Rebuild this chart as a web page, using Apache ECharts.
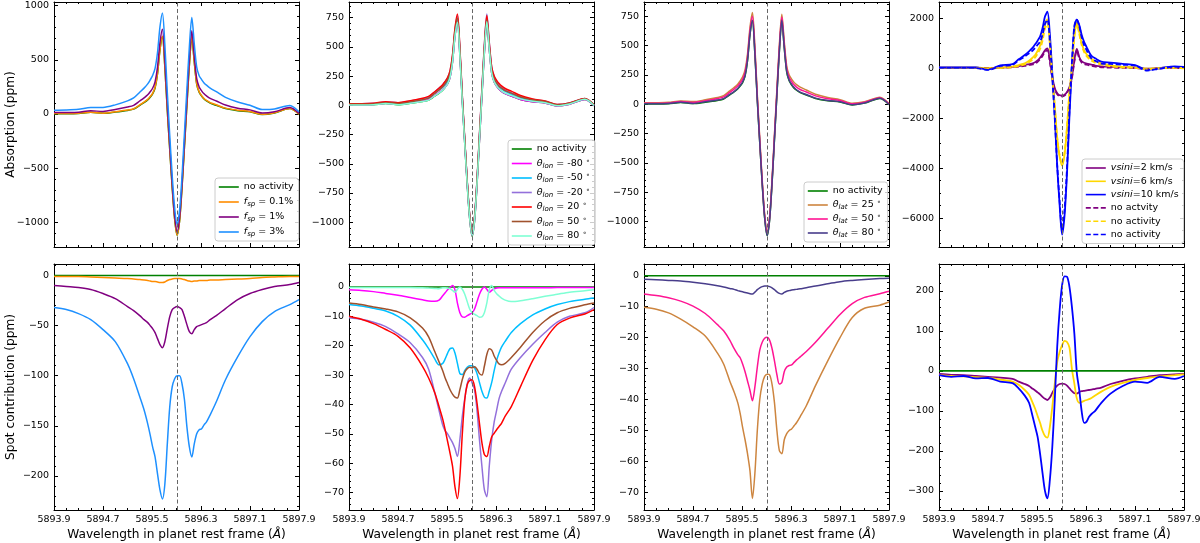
<!DOCTYPE html>
<html>
<head>
<meta charset="utf-8">
<script src="https://cdn.jsdelivr.net/npm/echarts@6/dist/echarts.min.js"></script>
<style>
  html, body { margin: 0; padding: 0; background: #fff; }
  #chart { width: 1200px; height: 543px; }
</style>
</head>
<body>
<div id="chart"></div>
<script>
// wavelength grid (Angstrom), shared by every curve; denser around the Na D1 core
const wave = [5893.9, 5894.1, 5894.3, 5894.5, 5894.7, 5894.9, 5895.1, 5895.2, 5895.3, 5895.37,
  5895.43, 5895.47, 5895.51, 5895.55, 5895.59, 5895.63, 5895.67, 5895.71, 5895.75, 5895.79,
  5895.83, 5895.87, 5895.91, 5895.95, 5895.99, 5896.03, 5896.07, 5896.11, 5896.15, 5896.19,
  5896.23, 5896.27, 5896.31, 5896.35, 5896.39, 5896.45, 5896.55, 5896.7, 5896.9, 5897.1,
  5897.3, 5897.5, 5897.75, 5897.9];
const flatWave = [5893.9, 5897.9];
const flatZero = [0, 0];
const restLine = 5895.91;

// --- absorption, panels 1-3 (top row) ---
const noActivity = [3,3,5,15,6,18,33,45,80,105,130,155,185,240,370,590,710,430,30,-330,-680,-970,-1120,-990,-680,-300,80,450,710,480,275,200,165,138,120,100,80,50,30,20,-5,10,50,-3];
const fsp01Abs = [4,4,6,17,8,21,36,49,84,110,135,161,191,246,377,597,717,437,35,-326,-677,-967,-1117,-987,-677,-296,85,456,716,486,281,205,170,143,125,105,85,54,34,23,-3,12,51,-2];
const fsp1Abs = [13,14,17,29,24,41,64,80,120,149,177,205,238,297,433,659,782,496,83,-289,-646,-938,-1089,-958,-646,-259,129,506,768,534,326,250,214,186,167,144,120,83,54,38,9,21,59,4];
const fsp3Abs = [35,37,43,59,60,84,121,148,201,239,278,314,356,421,568,804,933,638,198,-199,-569,-867,-1020,-890,-572,-176,231,621,891,648,433,354,318,287,266,239,206,154,111,81,41,46,79,21];

const lonM80Abs = [4,4,7,17,9,22,37,50,85,110,133,157,186,240,370,591,716,439,40,-320,-670,-961,-1111,-983,-675,-298,81,450,711,482,276,201,165,138,120,100,80,50,30,20,-5,10,50,-3];
const lonM50Abs = [9,10,12,23,16,31,51,66,105,132,156,180,208,261,391,613,736,460,60,-302,-653,-943,-1093,-963,-651,-268,116,488,748,516,308,229,190,161,141,119,96,63,40,28,1,15,54,1];
const lonM20Abs = [14,14,17,29,22,37,57,73,116,147,177,204,235,292,423,645,768,482,74,-292,-647,-939,-1087,-955,-638,-248,141,519,781,541,327,246,207,176,156,133,108,74,50,36,7,20,59,4];
const lonP20Abs = [13,14,18,30,23,39,60,76,116,146,175,204,238,297,431,658,782,495,80,-292,-647,-938,-1088,-956,-641,-254,133,507,768,534,326,250,214,186,166,144,121,84,55,38,8,21,59,5];
const lonP50Abs = [9,9,12,23,15,29,47,62,102,131,159,186,218,275,407,628,748,465,62,-301,-652,-943,-1093,-963,-652,-271,110,477,733,501,297,224,190,164,147,126,104,71,46,32,4,17,56,3];
const lonP80Abs = [3,3,5,15,6,18,33,45,81,106,130,155,185,241,371,592,711,430,31,-328,-675,-963,-1111,-981,-670,-290,90,459,716,481,275,201,167,141,124,105,85,55,34,23,-3,12,51,-2];

const lat25Abs = [13,14,17,29,23,38,58,74,114,143,171,200,234,293,428,653,782,494,80,-290,-645,-938,-1088,-958,-645,-259,130,507,768,533,326,250,215,187,168,146,122,86,58,40,9,21,60,6];
const lat50Abs = [9,9,12,23,16,30,49,63,101,129,156,182,214,271,404,627,750,466,60,-306,-659,-950,-1100,-969,-657,-273,112,485,745,511,305,229,194,166,147,126,105,72,47,33,4,17,56,2];
const lat80Abs = [4,4,7,17,8,21,36,49,84,109,135,160,190,245,376,596,716,435,35,-326,-677,-967,-1117,-987,-676,-296,85,456,716,485,280,205,170,143,124,104,84,53,33,22,-4,11,51,-2];

// --- absorption, panel 4 (rotation) ---
const vsini2Abs = [20,20,25,20,15,30,60,90,130,170,200,240,310,420,560,720,800,330,-350,-800,-1000,-1080,-1090,-1060,-950,-750,-350,330,773,450,280,220,190,165,145,110,80,60,40,30,-20,10,25,10];
const vsini6Abs = [20,20,25,20,15,30,70,130,200,300,430,530,700,900,1250,1750,1960,1100,-300,-1500,-2800,-3550,-3900,-3450,-2400,-1000,0,1300,1830,1450,1000,720,560,450,370,290,200,120,60,40,-20,15,30,10];
const vsini10Abs = [30,30,30,30,-50,120,170,360,530,680,827,960,1107,1267,1600,2070,2267,1350,-200,-1933,-3933,-5500,-6667,-5900,-4200,-1900,67,1600,1950,1733,1333,1050,850,650,500,400,267,230,180,130,-60,0,80,60];
const vsini2NoAct = [12,10,14,7,0,13,40,63,97,132,155,191,256,361,495,650,727,263,-405,-844,-1037,-1113,-1122,-1093,-987,-794,-401,274,716,397,229,170,141,117,98,65,38,27,15,11,-35,-1,16,2];
const vsini6NoAct = [9,7,11,4,-3,8,43,95,152,240,350,435,587,770,1100,1587,1793,960,-390,-1532,-2778,-3503,-3836,-3375,-2328,-942,5,1268,1761,1370,922,645,487,379,302,228,148,80,30,17,-38,1,19,1];
const vsini10NoAct = [19,15,17,11,-68,93,139,316,468,600,712,820,942,1060,1345,1770,1948,1077,-390,-2006,-3873,-5348,-6453,-5664,-3965,-1690,227,1693,1945,1685,1231,920,723,535,392,300,187,173,142,103,-90,-15,60,47];

// --- spot contribution (bottom row) ---
const fsp01Spot = [-1,-1,-1,-1.5,-2,-2.5,-3,-3.5,-4,-4.5,-5,-5.5,-6,-6,-6.5,-7,-7,-6.5,-5,-4,-3.5,-3,-3,-3,-3.5,-4,-5,-5.5,-6,-5.5,-5.5,-5,-5,-5,-5,-4.5,-4.5,-4,-3.5,-3,-2,-1.5,-1,-1];
const fsp1Spot = [-10,-11,-12,-14,-18,-23,-31,-35,-40,-44,-47,-50,-53,-57,-63,-69,-72,-66,-53,-41,-34,-32,-31,-32,-34,-41,-49,-56,-58,-54,-51,-50,-49,-48,-47,-44,-40,-33,-24,-18,-14,-11,-9,-7];
const fsp3Spot = [-32,-34,-38,-44,-54,-66,-88,-103,-121,-134,-148,-159,-171,-181,-198,-214,-223,-208,-168,-131,-111,-103,-100,-100,-108,-124,-151,-171,-181,-168,-158,-154,-153,-149,-146,-139,-126,-104,-81,-61,-46,-36,-29,-24];

const lonM80Spot = [-1,-1.2,-1.6,-2.2,-2.8,-3.6,-4.4,-4.8,-4.9,-4.5,-3,-2,-1,-0.2,0.5,-1,-5.5,-8.8,-10.2,-10.3,-9.8,-9.3,-8.8,-7.5,-5,-2.5,-0.8,0,-0.8,-1.8,-1.2,-0.6,-0.4,-0.3,-0.3,-0.3,-0.3,-0.3,-0.3,-0.3,-0.2,-0.2,-0.2,-0.2];
const lonM50Spot = [-6,-6.5,-7.3,-8.2,-10,-13,-18,-21,-24.5,-26.5,-26,-24.5,-22.5,-21,-20.8,-22.5,-26,-29.5,-29.8,-28.5,-27.3,-26.8,-26.8,-27.5,-29.5,-32.5,-35.5,-37.5,-37.8,-35.5,-32.5,-28.5,-25,-22.5,-20.5,-18.5,-15.5,-12.5,-9.5,-7.5,-6,-5,-4.2,-3.8];
const lonM20Spot = [-10.5,-11,-12,-13.5,-16,-19,-24,-28,-36,-42,-47,-49,-50,-51.5,-53,-55,-57.7,-52,-44,-38,-33,-31,-32.7,-35,-42,-52,-61,-69,-71.4,-61,-52,-46,-42,-38,-35.6,-32.7,-28,-24,-19.5,-15.5,-12,-10,-8.8,-7];
const lonP20Spot = [-10,-11,-12.5,-14.5,-16.8,-20.8,-27,-31,-36,-40.7,-45,-48.6,-52.6,-56.6,-61,-68,-72,-64.5,-50,-38.4,-33.3,-31.8,-31.6,-33.9,-39.5,-46.4,-53,-57,-57.7,-54.3,-51,-49.8,-48.6,-47.5,-46.4,-44,-40.7,-33.9,-25,-18,-12.8,-10.6,-9.2,-7.7];
const lonP50Spot = [-5.5,-6,-6.8,-7.5,-8.5,-10.5,-14,-17,-22,-25.5,-28.5,-31,-33,-35,-36.5,-37.5,-37.8,-35,-31.5,-29,-27.8,-27.3,-27.5,-27.2,-28,-29.5,-30,-27,-23,-21,-21.5,-23.5,-25,-26.2,-26.5,-26,-24,-20.5,-15.5,-11.5,-8.8,-7.3,-6.1,-5.5];
const lonP80Spot = [-0.2,-0.2,-0.2,-0.2,-0.2,-0.2,-0.3,-0.4,-0.5,-0.6,-0.3,-0.3,-0.4,-0.6,-1.2,-1.8,-0.8,0,-0.8,-2.5,-5,-7.5,-8.8,-9.3,-9.8,-10.3,-10.2,-8.8,-5.5,-1,0.5,-1.2,-2.3,-3.1,-3.8,-4.5,-5,-4.7,-4,-3.2,-2.5,-1.8,-1.3,-1];

const lat25Spot = [-10.2,-10.8,-12,-14,-16.5,-19.5,-25,-28.5,-34,-37.5,-41,-44.5,-49,-53,-57.5,-63,-72,-64,-50,-40,-35,-32.5,-31.8,-32,-35,-41,-50,-56.5,-57.5,-53,-51,-50,-49.5,-48.5,-47.5,-45.5,-42,-35.5,-27.5,-20,-13.5,-10.5,-9.5,-8.5];
const lat50Spot = [-5.9,-6.4,-7.1,-8.2,-9.8,-12.2,-15.8,-17.8,-20.8,-23.5,-25.5,-26.5,-28.5,-31,-34,-37,-40.4,-36,-29.5,-24,-21.5,-20.2,-19.9,-20.8,-23.5,-27.5,-32,-35,-34.5,-31,-29.5,-29,-28.8,-28,-27.2,-26.2,-24.5,-21.5,-17,-12.5,-9,-7,-5.8,-5];
const lat80Spot = [-1.1,-1.3,-1.5,-1.7,-2.1,-2.6,-3.2,-3.6,-4.1,-4.4,-4.8,-5,-5.2,-5.4,-5.6,-5.8,-5.9,-5.3,-4.5,-3.9,-3.5,-3.3,-3.3,-3.5,-3.9,-4.5,-5.2,-5.7,-5.9,-5.4,-5,-4.8,-4.6,-4.5,-4.4,-4.2,-3.9,-3.3,-2.6,-1.9,-1.5,-1.2,-0.9,-0.8];

const vsini2Spot = [-8,-10,-11,-13,-15,-17,-20,-27,-33,-38,-45,-49,-54,-59,-65,-70,-73,-67,-55,-44,-37,-33,-32,-33,-37,-44,-51,-56,-57,-53,-51,-50,-49,-48,-47,-45,-42,-33,-25,-19,-15,-11,-9,-8];
const vsini6Spot = [-11,-13,-14,-16,-18,-22,-27,-35,-48,-60,-80,-95,-113,-130,-150,-163,-167,-140,-90,-32,22,47,64,75,72,58,5,-32,-69,-80,-78,-75,-73,-71,-68,-62,-52,-40,-30,-23,-18,-14,-11,-9];
const vsini10Spot = [-11,-15,-13,-19,-18,-27,-31,-44,-62,-80,-115,-140,-165,-207,-255,-300,-319,-273,-190,-73,60,152,214,236,235,210,160,93,-5,-48,-102,-130,-127,-115,-108,-100,-80,-57,-38,-27,-30,-15,-20,-13];

// tick labels
const waveTicks = [5893.9, 5894.7, 5895.5, 5896.3, 5897.1, 5897.9];
const absTicksA = [-1000, -500, 0, 500, 1000];
const spotTicksA = [-200, -150, -100, -50, 0];
const absTicksB = [-1000, -750, -500, -250, 0, 250, 500, 750];
const spotTicksB = [-70, -60, -50, -40, -30, -20, -10, 0];
const absTicksD = [-6000, -4000, -2000, 0, 2000];
const spotTicksD = [-300, -200, -100, 0, 100, 200];

// legend texts (series names are internal keys)
const labels = {
  p1_na: 'no activity',
  p1_f01: '{i|f}{sub|sp} = 0.1%',
  p1_f1: '{i|f}{sub|sp} = 1%',
  p1_f3: '{i|f}{sub|sp} = 3%',
  p2_na: 'no activity',
  p2_m80: '{i|θ}{sub|lon} = -80 {sup|∘}',
  p2_m50: '{i|θ}{sub|lon} = -50 {sup|∘}',
  p2_m20: '{i|θ}{sub|lon} = -20 {sup|∘}',
  p2_p20: '{i|θ}{sub|lon} = 20 {sup|∘}',
  p2_p50: '{i|θ}{sub|lon} = 50 {sup|∘}',
  p2_p80: '{i|θ}{sub|lon} = 80 {sup|∘}',
  p3_na: 'no activity',
  p3_25: '{i|θ}{sub|lat} = 25 {sup|∘}',
  p3_50: '{i|θ}{sub|lat} = 50 {sup|∘}',
  p3_80: '{i|θ}{sub|lat} = 80 {sup|∘}',
  p4_2: '{i|vsini}=2 km/s',
  p4_6: '{i|vsini}=6 km/s',
  p4_10: '{i|vsini}=10 km/s',
  p4_na2: 'no actvity',
  p4_na6: 'no activity',
  p4_na10: 'no activity'
};

const C = {
  green: '#008000', darkorange: '#ff8c00', purple: '#800080', dodgerblue: '#1e90ff',
  magenta: '#ff00ff', deepskyblue: '#00bfff', mediumpurple: '#9370db', red: '#ff0000',
  sienna: '#a0522d', aquamarine: '#7fffd4', peru: '#cd853f', deeppink: '#ff1493',
  slate: '#483d8b', gold: '#ffd700', blue: '#0000ff'
};

[['noActivity', noActivity], ['fsp01Abs', fsp01Abs], ['fsp1Abs', fsp1Abs], ['fsp3Abs', fsp3Abs],
 ['lonM80Abs', lonM80Abs], ['lonM50Abs', lonM50Abs], ['lonM20Abs', lonM20Abs], ['lonP20Abs', lonP20Abs],
 ['lonP50Abs', lonP50Abs], ['lonP80Abs', lonP80Abs], ['lat25Abs', lat25Abs], ['lat50Abs', lat50Abs],
 ['lat80Abs', lat80Abs], ['vsini2Abs', vsini2Abs], ['vsini6Abs', vsini6Abs], ['vsini10Abs', vsini10Abs],
 ['vsini2NoAct', vsini2NoAct], ['vsini6NoAct', vsini6NoAct], ['vsini10NoAct', vsini10NoAct],
 ['fsp01Spot', fsp01Spot], ['fsp1Spot', fsp1Spot], ['fsp3Spot', fsp3Spot], ['lonM80Spot', lonM80Spot],
 ['lonM50Spot', lonM50Spot], ['lonM20Spot', lonM20Spot], ['lonP20Spot', lonP20Spot], ['lonP50Spot', lonP50Spot],
 ['lonP80Spot', lonP80Spot], ['lat25Spot', lat25Spot], ['lat50Spot', lat50Spot], ['lat80Spot', lat80Spot],
 ['vsini2Spot', vsini2Spot], ['vsini6Spot', vsini6Spot], ['vsini10Spot', vsini10Spot]
].forEach(([n, a]) => { if (a.length !== wave.length) throw new Error(n + ' has ' + a.length + ' values'); });

const fontFamily = 'DejaVu Sans';
const tickFont = 9.5;
const titleFont = 12.2;
const cols = [54, 349, 644, 939];
const rows = [{ top: 2, height: 245 }, { top: 264, height: 246 }];
const dash = [5, 2.5];

const panels = [
  { col: 0, row: 0, yMin: -1228, yMax: 1034, ticks: absTicksA, minor: 100, yName: 'Absorption (ppm)',
    lines: [['p1_na', noActivity, C.green], ['p1_f01', fsp01Abs, C.darkorange], ['p1_f1', fsp1Abs, C.purple], ['p1_f3', fsp3Abs, C.dodgerblue]],
    legend: { left: 215, top: 178, gap: 3 } },
  { col: 1, row: 0, yMin: -1212, yMax: 884, ticks: absTicksB, minor: 50,
    lines: [['p2_na', noActivity, C.green], ['p2_m80', lonM80Abs, C.magenta], ['p2_m50', lonM50Abs, C.deepskyblue], ['p2_m20', lonM20Abs, C.mediumpurple],
            ['p2_p20', lonP20Abs, C.red], ['p2_p50', lonP50Abs, C.sienna], ['p2_p80', lonP80Abs, C.aquamarine]],
    legend: { left: 508, top: 140, gap: 2.5 } },
  { col: 2, row: 0, yMin: -1216, yMax: 872, ticks: absTicksB, minor: 50,
    lines: [['p3_na', noActivity, C.green], ['p3_25', lat25Abs, C.peru], ['p3_50', lat50Abs, C.deeppink], ['p3_80', lat80Abs, C.slate]],
    legend: { left: 804, top: 182, gap: 2 } },
  { col: 3, row: 0, yMin: -7160, yMax: 2655, ticks: absTicksD, minor: 500,
    lines: [['p4_2', vsini2Abs, C.purple], ['p4_6', vsini6Abs, C.gold], ['p4_10', vsini10Abs, C.blue],
            ['p4_na2', vsini2NoAct, C.purple, dash], ['p4_na6', vsini6NoAct, C.gold, dash], ['p4_na10', vsini10NoAct, C.blue, dash]],
    legend: { left: 1082, top: 159, gap: 1.3 } },
  { col: 0, row: 1, yMin: -234, yMax: 11.5, ticks: spotTicksA, minor: 10, yName: 'Spot contribution (ppm)',
    lines: [['b1_na', flatZero, C.green, null, flatWave], ['b1_f01', fsp01Spot, C.darkorange], ['b1_f1', fsp1Spot, C.purple], ['b1_f3', fsp3Spot, C.dodgerblue]] },
  { col: 1, row: 1, yMin: -75.9, yMax: 7.8, ticks: spotTicksB, minor: 2,
    lines: [['b2_na', flatZero, C.green, null, flatWave], ['b2_m80', lonM80Spot, C.magenta], ['b2_m50', lonM50Spot, C.deepskyblue], ['b2_m20', lonM20Spot, C.mediumpurple],
            ['b2_p20', lonP20Spot, C.red], ['b2_p50', lonP50Spot, C.sienna], ['b2_p80', lonP80Spot, C.aquamarine]] },
  { col: 2, row: 1, yMin: -75.7, yMax: 3.8, ticks: spotTicksB, minor: 2,
    lines: [['b3_na', flatZero, C.green, null, flatWave], ['b3_25', lat25Spot, C.peru], ['b3_50', lat50Spot, C.deeppink], ['b3_80', lat80Spot, C.slate]] },
  { col: 3, row: 1, yMin: -348, yMax: 267, ticks: spotTicksD, minor: 20,
    lines: [['b4_2', vsini2Spot, C.purple], ['b4_6', vsini6Spot, C.gold], ['b4_10', vsini10Spot, C.blue], ['b4_na', flatZero, C.green, null, flatWave]] }
];

function ticksFrom(start, end, step) {
  const out = [];
  for (let k = 0; ; k++) {
    const v = +(start + k * step).toFixed(6);
    if (v > end + 1e-9) break;
    out.push(v);
  }
  return out;
}
const waveMinor = ticksFrom(5893.9, 5897.9, 0.2);
const minusFmt = v => (v < 0 ? '\u2212' + Math.abs(v) : String(v));

const grid = [], xAxis = [], yAxis = [], series = [], legend = [];
const lineAxis = { onZero: false, lineStyle: { color: '#000', width: 1 } };
const noLine = { show: false, onZero: false };

panels.forEach((p, gi) => {
  const r = rows[p.row];
  grid.push({ left: cols[p.col], top: r.top, width: 245, height: r.height, outerBoundsMode: 'none', containLabel: false });

  const xb = { gridIndex: gi, type: 'value', min: 5893.9, max: 5897.9, splitLine: { show: false } };
  const main = Object.assign({}, xb, {
    position: 'bottom', axisLine: lineAxis,
    axisTick: { inside: true, length: 4, customValues: waveTicks, lineStyle: { color: '#000' } },
    axisLabel: { show: p.row === 1, customValues: waveTicks, formatter: v => v.toFixed(1), margin: 5,
                 color: '#000', fontSize: tickFont, fontFamily }
  });
  if (p.row === 1) {
    Object.assign(main, {
      name: 'Wavelength in planet rest frame ({a|Å})', nameLocation: 'middle', nameGap: 19, nameMoveOverlap: false,
      nameTextStyle: { color: '#000', fontSize: titleFont, fontFamily, rich: { a: { fontStyle: 'italic', fontSize: titleFont, fontFamily } } }
    });
  }
  xAxis.push(main,
    Object.assign({}, xb, { position: 'top', axisLine: lineAxis, axisLabel: { show: false },
      axisTick: { inside: true, length: 4, customValues: waveTicks, lineStyle: { color: '#000' } } }),
    Object.assign({}, xb, { position: 'bottom', axisLine: noLine, axisLabel: { show: false },
      axisTick: { inside: true, length: 2, customValues: waveMinor, lineStyle: { color: '#000' } } }),
    Object.assign({}, xb, { position: 'top', axisLine: noLine, axisLabel: { show: false },
      axisTick: { inside: true, length: 2, customValues: waveMinor, lineStyle: { color: '#000' } } }));

  const yMinor = ticksFrom(Math.ceil(p.yMin / p.minor) * p.minor, p.yMax, p.minor);
  const yb = { gridIndex: gi, type: 'value', min: p.yMin, max: p.yMax, splitLine: { show: false } };
  const ymain = Object.assign({}, yb, {
    position: 'left', axisLine: lineAxis,
    axisTick: { inside: true, length: 4, customValues: p.ticks, lineStyle: { color: '#000' } },
    axisLabel: { customValues: p.ticks, formatter: minusFmt, margin: 5, color: '#000', fontSize: tickFont, fontFamily }
  });
  if (p.yName) {
    Object.assign(ymain, { name: p.yName, nameLocation: 'middle', nameGap: 37, nameRotate: 90, nameMoveOverlap: false,
      nameTextStyle: { color: '#000', fontSize: titleFont, fontFamily } });
  }
  yAxis.push(ymain,
    Object.assign({}, yb, { position: 'right', axisLine: lineAxis, axisLabel: { show: false },
      axisTick: { inside: true, length: 4, customValues: p.ticks, lineStyle: { color: '#000' } } }),
    Object.assign({}, yb, { position: 'left', axisLine: noLine, axisLabel: { show: false },
      axisTick: { inside: true, length: 2, customValues: yMinor, lineStyle: { color: '#000' } } }),
    Object.assign({}, yb, { position: 'right', axisLine: noLine, axisLabel: { show: false },
      axisTick: { inside: true, length: 2, customValues: yMinor, lineStyle: { color: '#000' } } }));

  const width = p.col === 3 ? 1.8 : 1.5;
  p.lines.forEach(([name, ys, color, type, xs], k) => {
    const s = {
      type: 'line', name, xAxisIndex: gi * 4, yAxisIndex: gi * 4,
      data: (xs || wave).map((x, j) => [x, ys[j]]),
      symbol: 'none', showSymbol: false, smooth: 0.3, silent: true, animation: false,
      lineStyle: { color, width, type: type || 'solid' }, itemStyle: { color }
    };
    if (k === p.lines.length - 1) {
      s.markLine = { symbol: ['none', 'none'], silent: true, animation: false, label: { show: false },
        lineStyle: { color: '#666', type: [4, 2.5], width: 1 }, data: [{ xAxis: restLine }] };
    }
    series.push(s);
  });

  if (p.legend) {
    legend.push({
      data: p.lines.map(l => l[0]), orient: 'vertical', left: p.legend.left, top: p.legend.top,
      itemWidth: 20, itemHeight: 8, itemGap: p.legend.gap, padding: [3, 5, 3, 3],
      borderColor: '#cccccc', borderWidth: 1, borderRadius: 3, backgroundColor: 'rgba(255,255,255,0.8)',
      selectedMode: false, lineStyle: { width: 1.6 }, itemStyle: { opacity: 0 },
      formatter: n => labels[n],
      textStyle: {
        color: '#000', fontSize: tickFont, fontFamily, lineHeight: 12,
        rich: {
          i: { fontStyle: 'italic', fontSize: tickFont, lineHeight: 12 },
          sub: { fontStyle: 'italic', fontSize: 7, lineHeight: 6, verticalAlign: 'bottom' },
          sup: { fontSize: 7, lineHeight: 6, verticalAlign: 'top' }
        }
      }
    });
  }
});

const chart = echarts.init(document.getElementById('chart'));
chart.setOption({
  backgroundColor: '#fff',
  animation: false,
  textStyle: { fontFamily },
  grid, xAxis, yAxis, series, legend
});
</script>
</body>
</html>
